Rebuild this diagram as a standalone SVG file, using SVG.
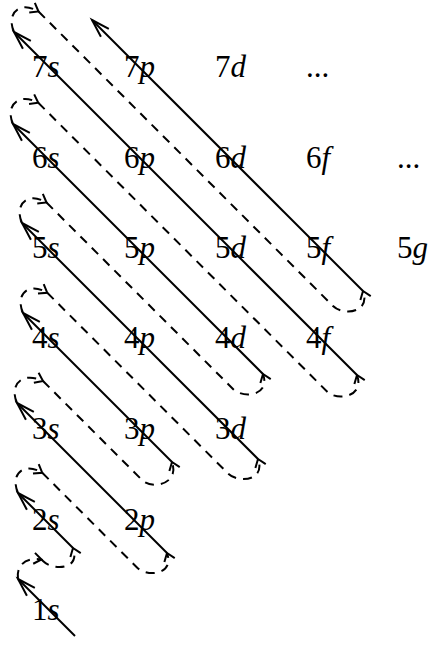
<svg xmlns="http://www.w3.org/2000/svg" width="435" height="648" viewBox="0 0 435 648">
<style>
.sol{fill:none;stroke:#000;stroke-width:2;marker-end:url(#big)}
.dsh{fill:none;stroke:#000;stroke-width:2;stroke-dasharray:9 7;marker-end:url(#small)}
text{font-family:"Liberation Serif","Times New Roman",serif;font-size:31px;fill:#000}
.i{font-style:italic}
</style>
<defs>
<marker id="big" markerUnits="userSpaceOnUse" markerWidth="40" markerHeight="40" refX="0" refY="0" orient="auto" overflow="visible">
<path d="M-18.2,-5.6 L0,0 L-18.2,5.6" fill="none" stroke="#000" stroke-width="2"/>
</marker>
<marker id="small" markerUnits="userSpaceOnUse" markerWidth="20" markerHeight="20" refX="0" refY="0" orient="auto" overflow="visible">
<path d="M-7.5,-5.5 L0,0 L-7.5,5.5" fill="none" stroke="#000" stroke-width="2"/>
</marker>
</defs>
<rect width="435" height="648" fill="#fff"/>
<g id="connectors">
<path class="sol" d="M75,636 L18,579"/>
<path class="sol" d="M73,548 L18,493"/>
<path class="sol" d="M167,553 L17,403"/>
<path class="sol" d="M172,462 L23,313"/>
<path class="sol" d="M258,459 L22,223"/>
<path class="sol" d="M263,374 L13,124"/>
<path class="sol" d="M357,375 L14,32"/>
<path class="sol" d="M363,291 L92,20"/>
<path class="dsh" d="M18,579 C16,565 26,557 41.5,559.5"/>
<path class="dsh" d="M41.5,559.5 L43,561 C53,571 81,570 73,548"/>
<path class="dsh" d="M18,493 C10,475 23,461 42.25,472.75"/>
<path class="dsh" d="M42.25,472.75 L137,567.5 C147,577.5 175,575 167,553"/>
<path class="dsh" d="M17,403 C9,385 22,371 43,381"/>
<path class="dsh" d="M43,381 L142,480 C152,490 180,484 172,462"/>
<path class="dsh" d="M23,313 C15,295 28,281 47.25,292.75"/>
<path class="dsh" d="M47.25,292.75 L228,473.5 C238,483.5 266,481 258,459"/>
<path class="dsh" d="M22,223 C14,205 27,191 46.5,202.5"/>
<path class="dsh" d="M46.5,202.5 L233,389 C243,399 271,396 263,374"/>
<path class="dsh" d="M13,124 C5,106 18,92 38.25,102.75"/>
<path class="dsh" d="M38.25,102.75 L327,391.5 C337,401.5 365,397 357,375"/>
<path class="dsh" d="M14,32 C6,14 19,0 38.5,11.5"/>
<path class="dsh" d="M38.5,11.5 L333,306 C343,316 371,313 363,291"/>
</g>
<g id="n7s"><text x="32" y="77">7<tspan class="i">s</tspan></text></g>
<g id="n7p"><text x="124" y="77">7<tspan class="i">p</tspan></text></g>
<g id="n7d"><text x="215" y="77">7<tspan class="i">d</tspan></text></g>
<g id="n7more"><text x="306" y="77">...</text></g>
<g id="n6s"><text x="32" y="168">6<tspan class="i">s</tspan></text></g>
<g id="n6p"><text x="124" y="168">6<tspan class="i">p</tspan></text></g>
<g id="n6d"><text x="215" y="168">6<tspan class="i">d</tspan></text></g>
<g id="n6f"><text x="306" y="168">6<tspan class="i">f</tspan></text></g>
<g id="n6more"><text x="397" y="168">...</text></g>
<g id="n5s"><text x="32" y="258">5<tspan class="i">s</tspan></text></g>
<g id="n5p"><text x="124" y="258">5<tspan class="i">p</tspan></text></g>
<g id="n5d"><text x="215" y="258">5<tspan class="i">d</tspan></text></g>
<g id="n5f"><text x="306" y="258">5<tspan class="i">f</tspan></text></g>
<g id="n5g"><text x="397" y="258">5<tspan class="i">g</tspan></text></g>
<g id="n4s"><text x="32" y="348">4<tspan class="i">s</tspan></text></g>
<g id="n4p"><text x="124" y="348">4<tspan class="i">p</tspan></text></g>
<g id="n4d"><text x="215" y="348">4<tspan class="i">d</tspan></text></g>
<g id="n4f"><text x="306" y="348">4<tspan class="i">f</tspan></text></g>
<g id="n3s"><text x="32" y="439">3<tspan class="i">s</tspan></text></g>
<g id="n3p"><text x="124" y="439">3<tspan class="i">p</tspan></text></g>
<g id="n3d"><text x="215" y="439">3<tspan class="i">d</tspan></text></g>
<g id="n2s"><text x="32" y="530">2<tspan class="i">s</tspan></text></g>
<g id="n2p"><text x="124" y="530">2<tspan class="i">p</tspan></text></g>
<g id="n1s"><text x="32" y="620">1<tspan class="i">s</tspan></text></g>
</svg>
